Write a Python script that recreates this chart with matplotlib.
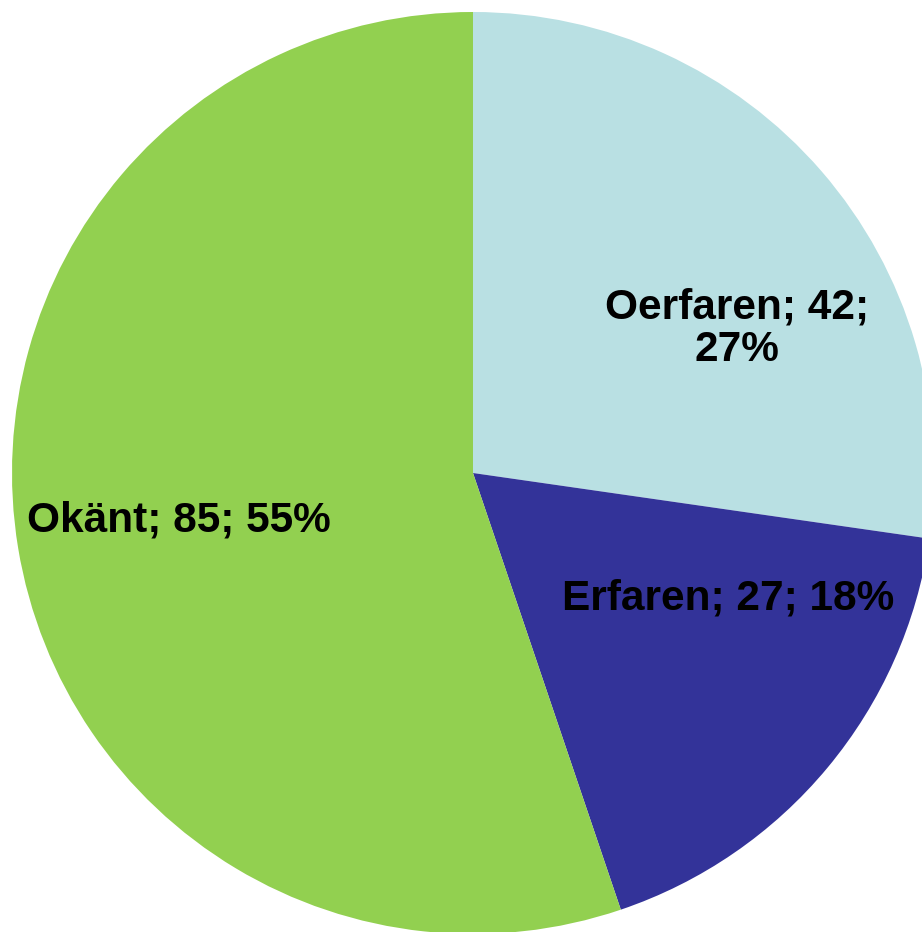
import matplotlib.pyplot as plt

categories = ["Oerfaren", "Erfaren", "Okänt"]
values = [42, 27, 85]
colors = ["#B9E0E3", "#333399", "#92D050"]


def main() -> None:
    plt.rcParams["font.family"] = ["Liberation Sans", "DejaVu Sans"]
    fig = plt.figure(figsize=(9.22, 9.32), dpi=100)
    ax = fig.add_axes([0, 0, 1, 1])

    # pie drawn in pixel-like data units so it can overflow the figure edge
    cx, cy, r = 473, 932 - 473, 461
    wedges, _ = ax.pie(
        values,
        colors=colors,
        startangle=90,
        counterclock=False,
        center=(cx, cy),
        radius=r,
        wedgeprops=dict(linewidth=0),
    )
    ax.set_xlim(0, 922)
    ax.set_ylim(0, 932)
    ax.set_aspect("equal")
    ax.axis("off")

    total = sum(values)
    pct = [round(v / total * 100) for v in values]
    labels = [
        "%s; %d;\n%d%%" % (categories[0], values[0], pct[0]),
        "%s; %d; %d%%" % (categories[1], values[1], pct[1]),
        "%s; %d; %d%%" % (categories[2], values[2], pct[2]),
    ]
    # label offsets from the pie centre (Excel-style placement)
    offsets = [(264, 144), (255, -125), (-294, -47)]
    for text, (dx, dy) in zip(labels, offsets):
        ax.text(cx + dx, cy + dy, text, ha="center", va="center",
                fontsize=30.5, fontweight="bold", color="black",
                linespacing=1.08)

    fig.savefig("out.png", dpi=100)


if __name__ == "__main__":
    main()
